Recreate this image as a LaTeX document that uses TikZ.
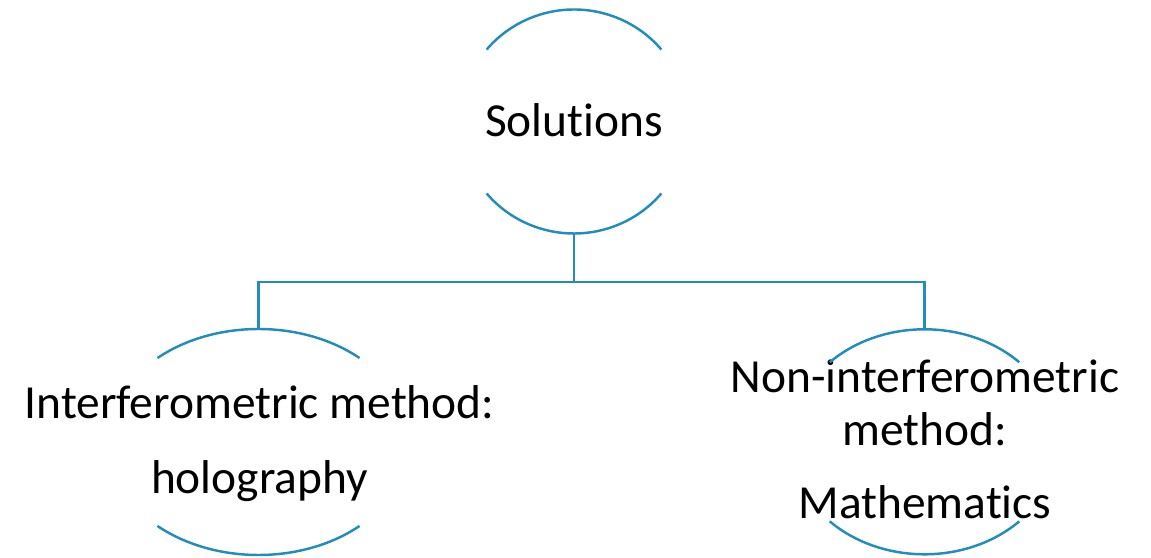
\documentclass[tikz,border=0pt]{standalone}
\usepackage{fontspec}
\setmainfont{Carlito}[Ligatures=NoCommon]
\usetikzlibrary{calc,positioning}
\definecolor{arcblue}{RGB}{33,140,190}
\tikzset{
  arcline/.style={draw=arcblue,line width=1.4pt},
  link/.style={draw=arcblue,line width=1.3pt},
  lbl/.style={font=\fontsize{27}{29.8}\selectfont,align=center,anchor=base,inner sep=0pt},
}

\begin{document}
\begin{tikzpicture}[x=0.02cm,y=0.02cm]
  \useasboundingbox (0,0) rectangle (1151,557);
  % centres of the three bubbles
  \coordinate (solc) at (574,435.5);
  \coordinate (holoc) at (258.5,115);
  \coordinate (mathc) at (924.5,115.2);
  % labels (base = last line)
  \node[lbl] (sol) at (574,420.3) {Solutions};
  \node[lbl] (holo) at (259.5,63.7) {Interferometric method:\\[12.9pt]holography};
  \node[lbl] (math) at (925,38.7) {Non-interferometric\\method:\\[11.9pt]Mathematics};
  % open bubbles
  \draw[arcline] ($(solc)+(40:114 and 112)$) arc[start angle=40,end angle=140,x radius=114,y radius=112];
  \draw[arcline] ($(solc)+(220:114 and 112)$) arc[start angle=220,end angle=320,x radius=114,y radius=112];
  \draw[arcline] ($(holoc)+(48:151 and 113)$) arc[start angle=48,end angle=132,x radius=151,y radius=113];
  \draw[arcline] ($(holoc)+(228:151 and 113)$) arc[start angle=228,end angle=312,x radius=151,y radius=113];
  \draw[arcline] ($(mathc)+(45:134 and 112.5)$) arc[start angle=45,end angle=135,x radius=134,y radius=112.5];
  \draw[arcline] ($(mathc)+(225:134 and 112.5)$) arc[start angle=225,end angle=315,x radius=134,y radius=112.5];
  % connectors
  \coordinate (sol-s) at ($(solc)+(0,-112)$);
  \coordinate (holo-n) at ($(holoc)+(0,113)$);
  \coordinate (math-n) at ($(mathc)+(0,112.5)$);
  \coordinate (bar) at (574,275);
  \draw[link] (sol-s) -- (bar);
  \draw[link] (holo-n) |- (bar) -| (math-n);
\end{tikzpicture}
\end{document}
